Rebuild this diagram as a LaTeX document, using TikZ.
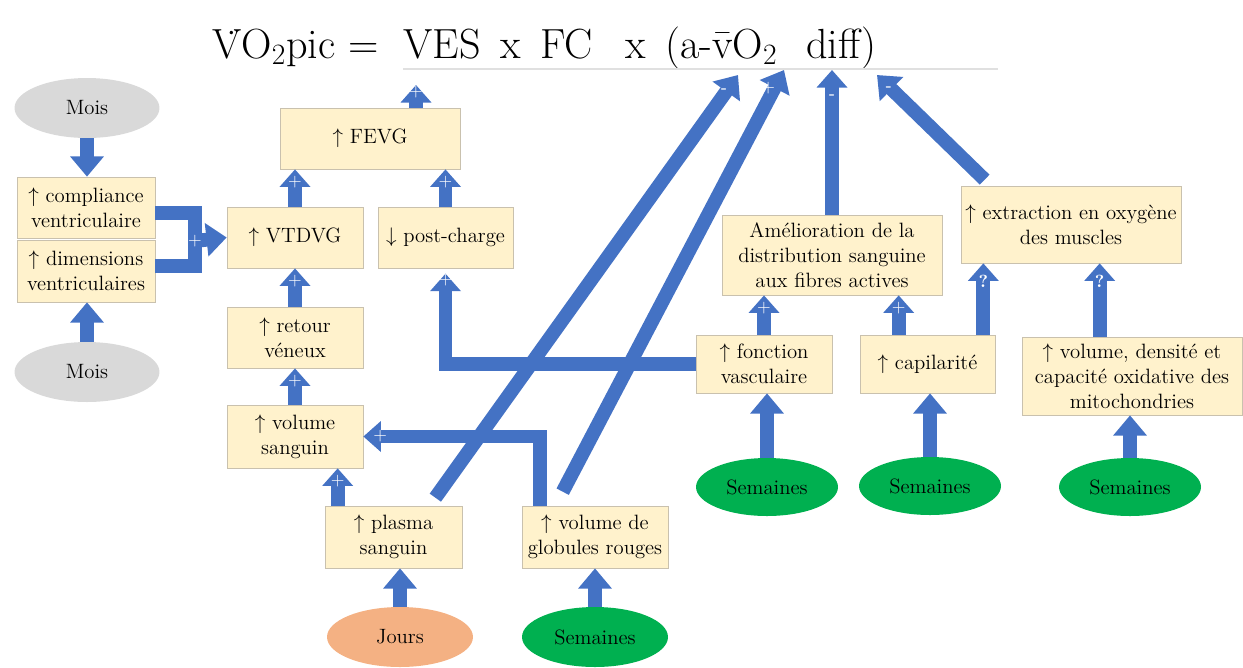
\documentclass[tikz,border=0pt]{standalone}
\usepackage{fontspec}
\usetikzlibrary{arrows.meta,shapes.geometric,calc}

\definecolor{bleufleche}{HTML}{4472C4}
\definecolor{fondbloc}{HTML}{FFF2CC}
\definecolor{bordbloc}{HTML}{C9C1AE}
\definecolor{vertduree}{HTML}{00B050}
\definecolor{grisduree}{HTML}{D9D9D9}
\definecolor{saumonduree}{HTML}{F4B183}

\newcommand{\textebloc}{\rmfamily\fontsize{11.8}{14.3}\selectfont}
\newcommand{\hausse}{$\uparrow$\ }
\newcommand{\baisse}{$\downarrow$\ }

\tikzset{
  bloc/.style={rectangle, fill=fondbloc, draw=bordbloc, line width=0.4pt,
    align=center, inner sep=0pt, font=\textebloc},
  duree/.style={ellipse, inner sep=0pt, minimum width=2.92cm,
    minimum height=1.2cm, font=\textebloc},
  fleche/.style={draw=bleufleche, line width=7.9pt,
    -{Triangle[width=17pt,length=10pt]}},
  flechedelai/.style={fleche, -{Triangle[width=18.5pt,length=11.5pt]}},
  trait/.style={draw=bleufleche, line width=7.9pt},
  signe/.style={text=white, inner sep=0pt,
    font=\sffamily\fontsize{10}{10}\selectfont},
  titre/.style={font=\rmfamily\fontsize{24}{28}\selectfont, anchor=base west, inner sep=0pt},
}

\begin{document}
\begin{tikzpicture}[x=0.02cm, y=-0.02cm]
    \useasboundingbox (0,0) rectangle (1243,667);

    % Equation du VO2pic
    \node[titre] (vo2) at (212,58) {\.{V}O\textsubscript{2}pic =};
    \node[titre] (ves) at (403,58) {VES};
    \node[titre] (foisa) at (500,58) {x};
    \node[titre] (fc) at (540,58) {FC};
    \node[titre] (foisb) at (625,58) {x};
    \node[titre] (avo2) at (665,58) {(a-\={v}O\textsubscript{2}};
    \node[titre] (diff) at (806,58) {diff)};
    \draw[black!12, line width=0.6pt] (403,69) -- (998,69);

    % Points d'arrivee sous l'equation
    \coordinate (vesin) at (416,85);
    \coordinate (avmoins) at (738,75);
    \coordinate (avplus) at (784,70);
    \coordinate (avdistr) at (832,70);
    \coordinate (avextr) at (877,75);

    % Blocs colonne gauche
    \node[bloc, minimum width=2.76cm, minimum height=1.22cm] (comp) at (86,207.5) {\hausse compliance\\ventriculaire};
    \node[bloc, minimum width=2.76cm, minimum height=1.24cm] (dim) at (86,271) {\hausse dimensions\\ventriculaires};

    % Blocs VES
    \node[bloc, minimum width=3.6cm, minimum height=1.22cm] (fevg) at (370,138.5) {\hausse FEVG};
    \node[bloc, minimum width=2.72cm, minimum height=1.22cm] (vtdvg) at (295,237.5) {\hausse VTDVG};
    \node[bloc, minimum width=2.7cm, minimum height=1.22cm] (post) at (445.5,237.5) {\baisse post-charge};
    \node[bloc, minimum width=2.72cm, minimum height=1.22cm] (retour) at (295,337.5) {\hausse retour\\véneux};
    \node[bloc, minimum width=2.72cm, minimum height=1.26cm] (volsang) at (295,436.5) {\hausse volume\\sanguin};
    \node[bloc, minimum width=2.74cm, minimum height=1.24cm] (plasma) at (393.5,537) {\hausse plasma\\sanguin};
    \node[bloc, minimum width=2.92cm, minimum height=1.24cm] (globules) at (595,537) {\hausse volume de\\globules rouges};

    % Blocs peripheriques
    \node[bloc, minimum width=4.4cm, minimum height=1.6cm] (amelio) at (832,255) {Amélioration de la\\distribution sanguine\\aux fibres actives};
    \node[bloc, minimum width=4.4cm, minimum height=1.54cm] (extract) at (1071,224.5) {\hausse extraction en oxygène\\des muscles};
    \node[bloc, minimum width=2.72cm, minimum height=1.16cm] (fonction) at (764,364) {\hausse fonction\\vasculaire};
    \node[bloc, minimum width=2.7cm, minimum height=1.16cm] (capil) at (927.5,364) {\hausse capilarité};
    \node[bloc, minimum width=4.4cm, minimum height=1.56cm] (mito) at (1132,376) {\hausse volume, densité et\\capacité oxidative des\\mitochondries};

    % Delais (ellipses)
    \node[duree, fill=grisduree, minimum width=2.9cm] (moisa) at (87,108) {Mois};
    \node[duree, fill=grisduree, minimum width=2.9cm] (moisb) at (87,372) {Mois};
    \node[duree, fill=saumonduree] (jours) at (400,637) {Jours};
    \node[duree, fill=vertduree] (sema) at (595,637) {Semaines};
    \node[duree, fill=vertduree, minimum width=2.84cm, minimum height=1.16cm] (semb) at (767,487) {Semaines};
    \node[duree, fill=vertduree, minimum width=2.84cm, minimum height=1.16cm] (semc) at (930,486) {Semaines};
    \node[duree, fill=vertduree, minimum width=2.84cm, minimum height=1.16cm] (semd) at (1130,487) {Semaines};

    % Fleches des delais
    \draw[flechedelai] (moisa.south) -- (moisa.south |- comp.north);
    \draw[flechedelai] (moisb.north) -- (moisb.north |- dim.south);
    \draw[flechedelai] (jours.north) -- (jours.north |- plasma.south);
    \draw[flechedelai] (sema.north) -- (sema.north |- globules.south);
    \draw[flechedelai] (semb.north) -- (semb.north |- fonction.south);
    \draw[flechedelai] (semc.north) -- (semc.north |- capil.south);
    \draw[flechedelai] (semd.north) -- (semd.north |- mito.south);

    % Accolade compliance / dimensions vers VTDVG
    \coordinate (jonction) at (195,241);
    \draw[trait] ([yshift=-3pt]comp.east) -| (jonction) |- ([yshift=3pt]dim.east);
    \draw[flechedelai] (jonction) node[signe] {+} -- (vtdvg.west);

    % Fleches verticales entre blocs
    \foreach \bas/\haut in {vtdvg/fevg, post/fevg, retour/vtdvg, volsang/retour, fonction/amelio}
        \draw[fleche] (\bas.north) -- (\bas.north |- \haut.south)
            node[signe, at end, yshift=-7.4pt] {+};
    \draw[fleche] (vesin |- fevg.north) -- (vesin) node[signe, at end, yshift=-4pt] {+};
    \draw[fleche] ($(plasma.north west)+(13,0)$) coordinate (pv) -- (pv |- volsang.south)
        node[signe, at end, yshift=-7.4pt] {+};
    \draw[fleche] ($(capil.north west)+(39,0)$) coordinate (ca) -- (ca |- amelio.south)
        node[signe, at end, yshift=-7.4pt] {+};

    % Globules rouges vers volume sanguin
    \draw[fleche] ($(globules.north west)+(18,0)$) |- (volsang.east)
        node[signe, at end, xshift=9.6pt] {+};

    % Fonction vasculaire vers post-charge
    \draw[fleche, shorten >=3pt] (fonction.west) -| (post.south)
        node[signe, at end, yshift=-6.8pt] {+};

    % Vers la difference a-vO2
    \draw[flechedelai] ($(plasma.north east)+(-27,-8)$) -- (avmoins)
        node[signe, at end, xshift=-7.9pt, yshift=-9pt] {\textbf{-}};
    \draw[flechedelai] ($(globules.north west)+(41,-14)$) -- (avplus)
        node[signe, at end, xshift=-9pt, yshift=-10.2pt] {+};
    \draw[fleche] (amelio.north) -- (avdistr)
        node[signe, at end, yshift=-15.3pt] {\textbf{-}};
    \draw[flechedelai] ($(extract.north west)+(24,-6)$) -- (avextr)
        node[signe, at end, xshift=6.8pt, yshift=-7.9pt] {\textbf{-}};

    % Vers l'extraction en oxygene
    \draw[fleche] ($(capil.north east)+(-12,0)$) coordinate (ce) -- (ce |- extract.south)
        node[signe, at end, yshift=-10.2pt, font=\rmfamily\bfseries\fontsize{10}{10}\selectfont] {?};
    \draw[fleche] ($(mito.north west)+(78,0)$) coordinate (me) -- (me |- extract.south)
        node[signe, at end, yshift=-10.2pt, font=\rmfamily\bfseries\fontsize{10}{10}\selectfont] {?};

\end{tikzpicture}
\end{document}
